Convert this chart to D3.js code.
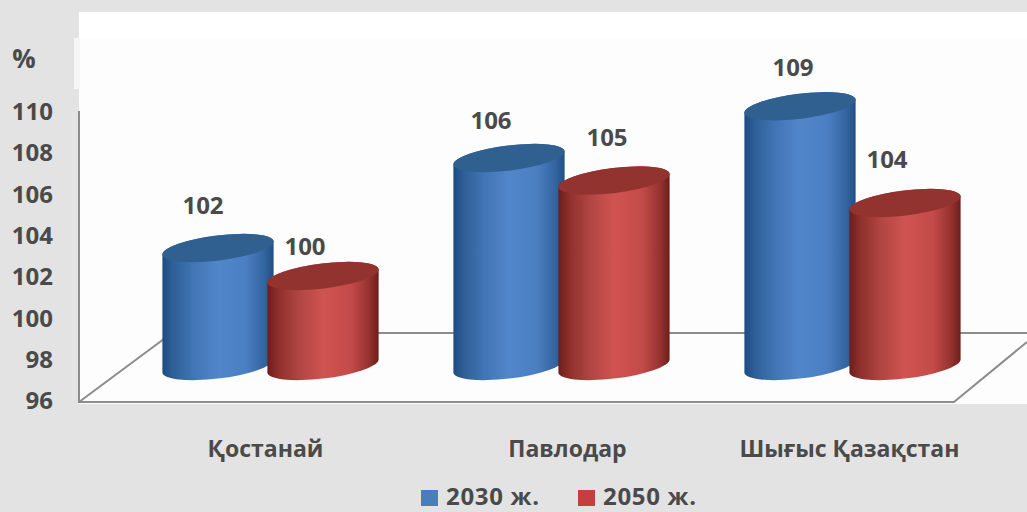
<!DOCTYPE html>
<html><head><meta charset="utf-8">
<script src="https://cdn.jsdelivr.net/npm/d3@7"></script>
<style>html,body{margin:0;padding:0;background:#e3e3e3}svg{display:block}text{font-family:"Open Sans",sans-serif;font-weight:700;fill:#4a4a4a}</style>
</head><body><svg id="c" width="1027" height="512"></svg>
<script>
const categories = ["Қостанай", "Павлодар", "Шығыс Қазақстан"];
const seriesNames = ["2030 ж.", "2050 ж."];
const values2030 = [102, 106, 109];
const values2050 = [100, 105, 104];
const tickValues = [96, 98, 100, 102, 104, 106, 108, 110];

const W = 1027, H = 512;
const svg = d3.select("#c");
const defs = svg.append("defs");
const look = [
  {side:[["0%","#1d4c82"],["10%","#2f6098"],["28%","#4175b4"],["50%","#5186cb"],["75%","#4a7fc2"],["92%","#33649f"],["100%","#224f82"]], top:"#30608f", key:"#4a7dbb"},
  {side:[["0%","#6e1d1b"],["10%","#8f2f2c"],["28%","#b04542"],["50%","#cf5351"],["75%","#c44b49"],["92%","#93312e"],["100%","#6c1e1b"]], top:"#93332f", key:"#c4403e"}
];
look.forEach((l,i)=>{
  const g = defs.append("linearGradient").attr("id","side"+i);
  l.side.forEach(s=>g.append("stop").attr("offset",s[0]).attr("stop-color",s[1]));
});

// panel
svg.append("rect").attr("x",79).attr("y",12).attr("width",W-79).attr("height",392).attr("fill","#fdfdfd");
svg.append("rect").attr("x",79).attr("y",12).attr("width",W-79).attr("height",26).attr("fill","#ffffff");
svg.append("rect").attr("x",74).attr("y",38).attr("width",6).attr("height",51).attr("fill","#f6f6f6");

// scales
const yTick = d3.scaleLinear().domain([96,110]).range([401,112]);
// calibrated to the picture's 3D projection of the cylinder tops
const yTop = d3.scaleLinear().domain([96,100,102,106,110]).range([352,276,248,158,89]);
const floorY = 366;
const xGroup = d3.scaleBand().domain(categories).range([125,998]);
const xSeries = d3.scaleBand().domain(seriesNames).range([-105,105]);
const cx = (c,s)=> xGroup(c)+xGroup.bandwidth()/2+xSeries(s)+xSeries.bandwidth()/2;

// floor
const floor = svg.append("g").attr("fill","none").attr("stroke","#8c8c8c").attr("stroke-width",2);
floor.append("path").attr("d","M79,111V402H954L1027,342");
floor.append("path").attr("d","M79,402L172,333H1027");

// y axis
const ax = svg.append("g").attr("transform","translate(53,0)").call(d3.axisLeft(yTick).tickValues(tickValues).tickSize(0).tickPadding(0));
ax.select(".domain").remove();
ax.selectAll("text").style("font-size","24px").style("font-family",'"Open Sans",sans-serif').style("font-weight",700);
svg.append("text").attr("x",24).attr("y",68).attr("text-anchor","middle").style("font-size","26px").text("%");

// cylinders
const a=56,b=12.5,phi=-7,rad=phi*Math.PI/180;
const t0=Math.atan2(-b*Math.sin(rad),a*Math.cos(rad));
const ex=a*Math.cos(t0)*Math.cos(rad)-b*Math.sin(t0)*Math.sin(rad);
const ey=a*Math.cos(t0)*Math.sin(rad)+b*Math.sin(t0)*Math.cos(rad);
const rows=[];
categories.forEach((c,i)=>{rows.push({c,s:seriesNames[0],v:values2030[i],k:0,i});rows.push({c,s:seriesNames[1],v:values2050[i],k:1,i});});
const labelNudge=[[-15,-43],[-18,-30],[-18,-38],[-7,-43],[-7,-39],[-18,-44]];
const cyl=svg.append("g").selectAll("g").data(rows).join("g");
cyl.append("path").attr("fill",d=>`url(#side${d.k})`).attr("d",d=>{
  const x=cx(d.c,d.s),t=yTop(d.v);
  return `M${x-ex},${t-ey}L${x-ex},${floorY-ey}A${a},${b} ${phi} 0 0 ${x+ex},${floorY+ey}L${x+ex},${t+ey}A${a},${b} ${phi} 0 0 ${x-ex},${t-ey}Z`;
});
cyl.append("ellipse").attr("rx",a).attr("ry",b).attr("fill",d=>look[d.k].top)
  .attr("transform",d=>`translate(${cx(d.c,d.s)},${yTop(d.v)}) rotate(${phi})`);
svg.append("g").selectAll("text").data(rows).join("text")
  .attr("x",(d,i)=>cx(d.c,d.s)+labelNudge[i][0]).attr("y",(d,i)=>yTop(d.v)+labelNudge[i][1]+8.5)
  .attr("text-anchor","middle").style("font-size","24px").text(d=>d.v);

// category labels
const catNudge=[-5,6,-3];
svg.append("g").selectAll("text").data(categories).join("text")
  .attr("x",(d,i)=>xGroup(d)+xGroup.bandwidth()/2+catNudge[i]).attr("y",457)
  .attr("text-anchor","middle").style("font-size","23px").text(d=>d);

// legend
const legendX=d3.scaleOrdinal().domain(seriesNames).range([421,578]);
const lg=svg.append("g").selectAll("g").data(seriesNames).join("g").attr("transform",d=>`translate(${legendX(d)},0)`);
lg.append("rect").attr("y",490).attr("width",17).attr("height",16).attr("fill",(d,i)=>look[i].key);
lg.append("text").attr("x",25).attr("y",504.5).style("font-size","24px").style("letter-spacing","0.7px").text(d=>d);
</script></body></html>
